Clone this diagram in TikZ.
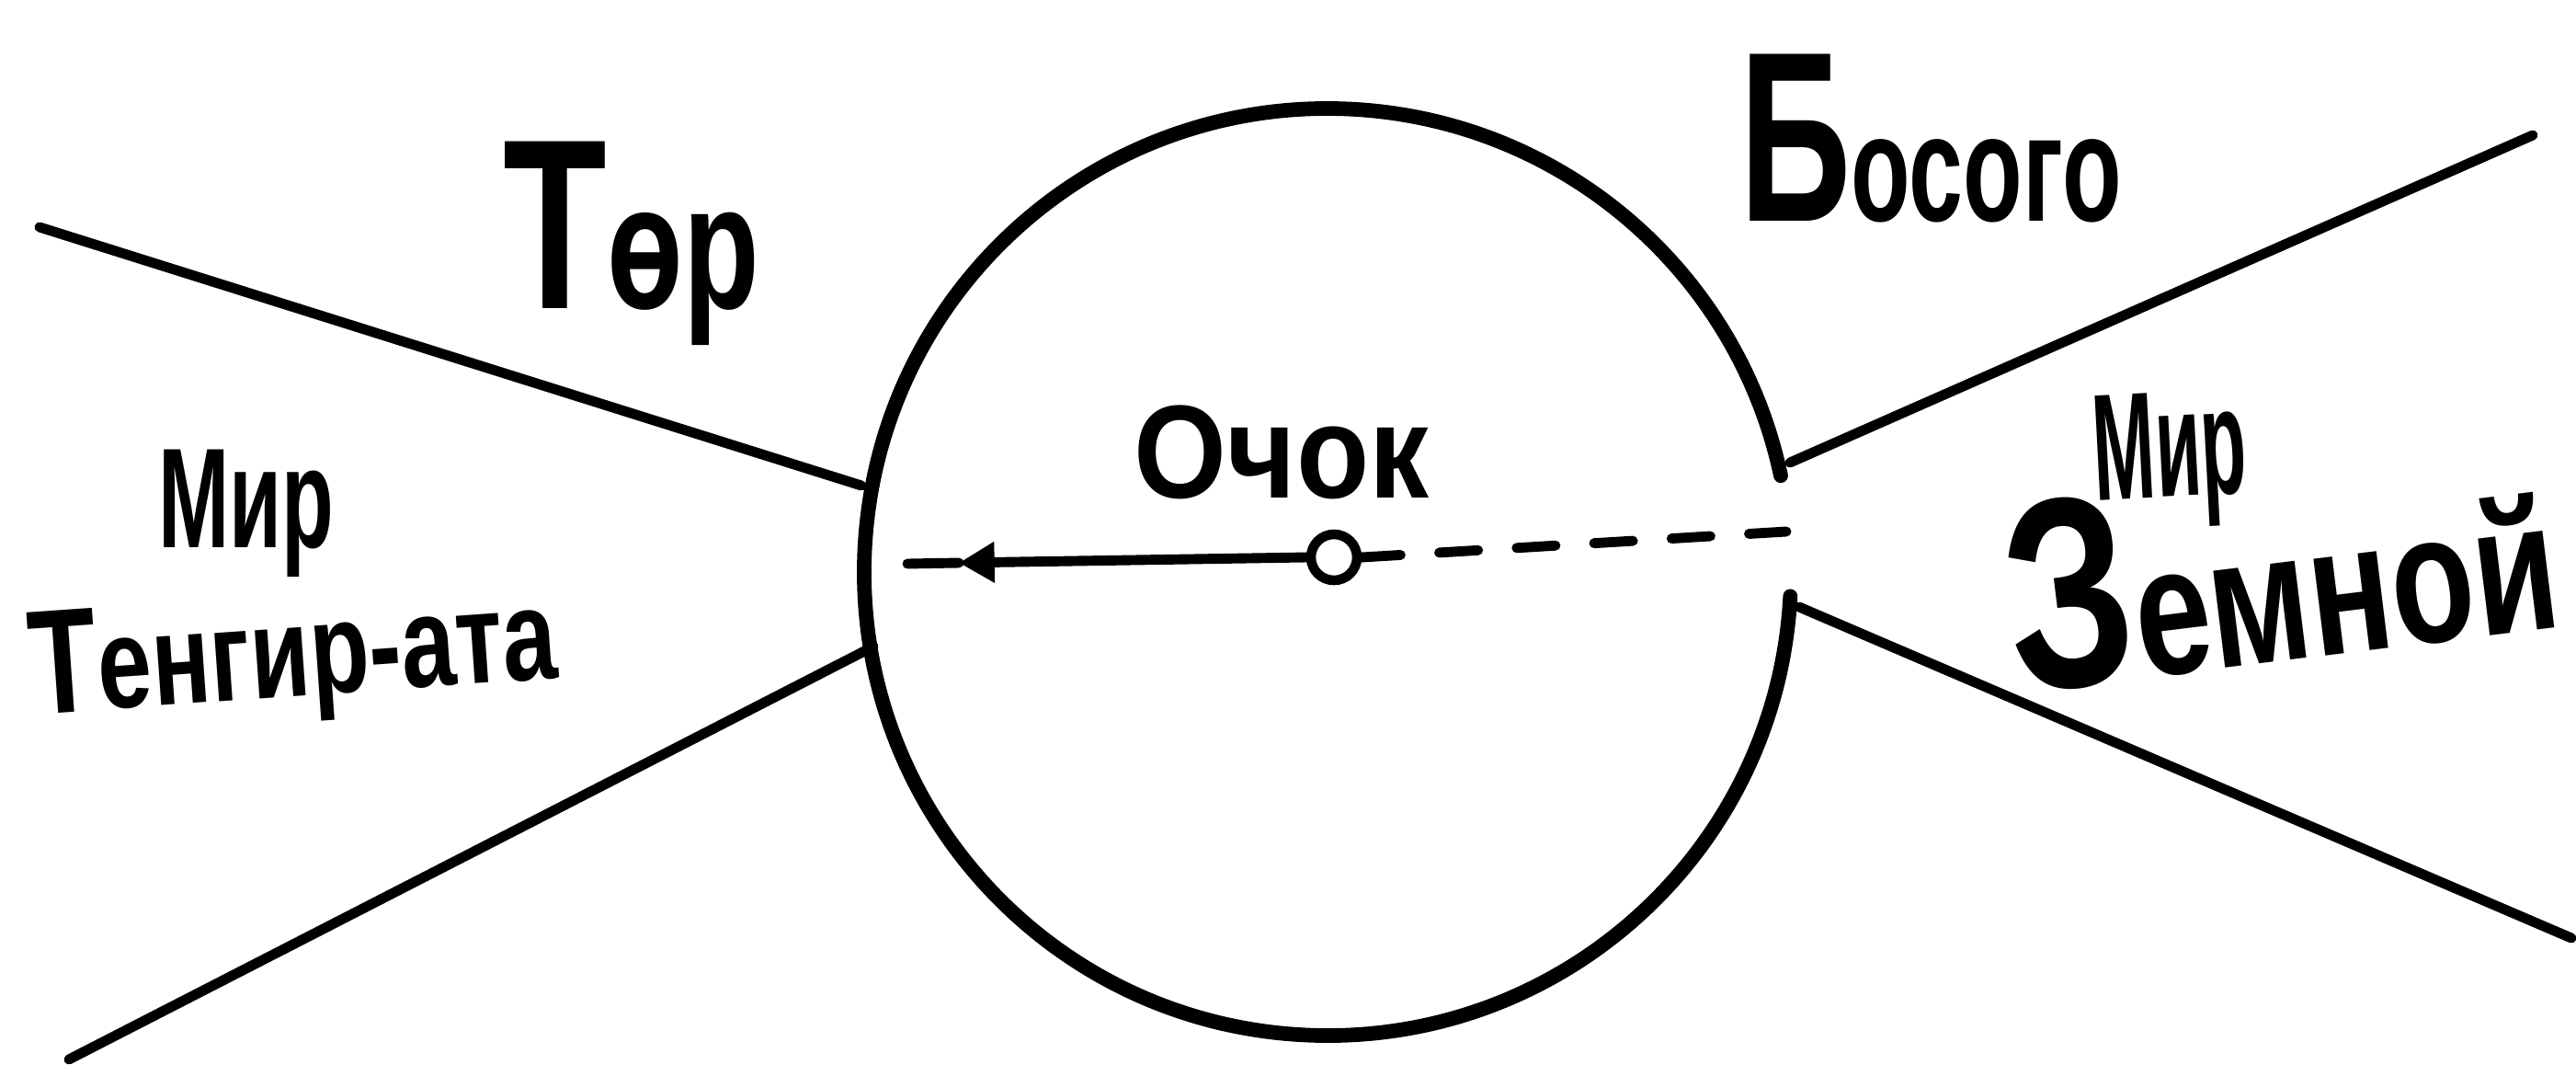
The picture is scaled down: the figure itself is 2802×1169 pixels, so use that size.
\documentclass[tikz,border=0pt]{standalone}
\usepackage{fontspec}
\setmainfont{Liberation Sans}
\usetikzlibrary{arrows.meta,calc}
\begin{document}
\begin{tikzpicture}[x=0.01cm,y=-0.01cm,
  lbl/.style={inner sep=0pt, anchor=base, text=black, font=\bfseries},
  ink/.style={line width=3.1pt, line cap=round, line join=round},
  rim/.style={line width=4.5pt, line cap=round},
  dotnode/.style={circle, draw, line width=3pt, minimum size=0.5cm, inner sep=0pt}]
\useasboundingbox (0,0) rectangle (2802,1169);
% big circle with gap on the right
\coordinate (C) at (1444,622);
\draw[rim] ($(C)+(3:504)$) coordinate (gL) arc[start angle=3, end angle=348, radius=504] coordinate (gU);
% rays
\coordinate (luS) at (43,247);   \coordinate (luE) at (937,528);
\coordinate (llS) at (75,1152);  \coordinate (llE) at (950,703);
\coordinate (ruS) at (1947,503); \coordinate (ruE) at (2755,147);
\coordinate (rlS) at (1957,660); \coordinate (rlE) at (2797,1020);
\draw[ink] (luS) -- (luE);
\draw[ink] (llS) -- (llE);
\draw[ink] (ruS) -- (ruE);
\draw[ink] (rlS) -- (rlE);
% centre point, arrow and dashed line
\node[dotnode] (dot) at (1451,606) {};
\coordinate (atip) at (1043,612);
\coordinate (aend) at (987,613);
\coordinate (dend) at (1943,578);
\draw[ink,-{Triangle[length=11pt,width=12pt]}] (dot.west) -- (atip);
\draw[ink] (atip) -- (aend);
\draw[ink, dash pattern=on 12pt off 12pt] (dot.east) -- (dend);
% labels
\node[lbl] (mirL) at (268,595) {\scalebox{0.60}[1]{\fontsize{44}{44}\selectfont Мир}};
\node[lbl, rotate=4] (tengir) at (322,757) {\scalebox{0.75}[1]{{\fontsize{46}{46}\selectfont Т}\fontsize{40}{40}\selectfont енгир-ата}};
\node[lbl] (tor) at (687,335) {\scalebox{0.70}[1]{{\fontsize{75}{75}\selectfont Т}\fontsize{55}{55}\selectfont өр}};
\node[lbl] (bosogo) at (2100,240) {\scalebox{0.64}[1]{{\fontsize{75}{75}\selectfont Б}\fontsize{47}{47}\selectfont осого}};
\node[lbl] (ochok) at (1394,541) {\scalebox{0.90}[1]{\fontsize{41}{41}\selectfont Очок}};
\node[lbl, rotate=3] (mirR) at (2363,540) {\scalebox{0.49}[1]{\fontsize{47}{47}\selectfont Мир}};
\node[lbl, rotate=7] (zemnoy) at (2492,718) {\scalebox{0.74}[1]{{\fontsize{84}{84}\selectfont З}\fontsize{57}{57}\selectfont емной}};
\end{tikzpicture}
\end{document}
